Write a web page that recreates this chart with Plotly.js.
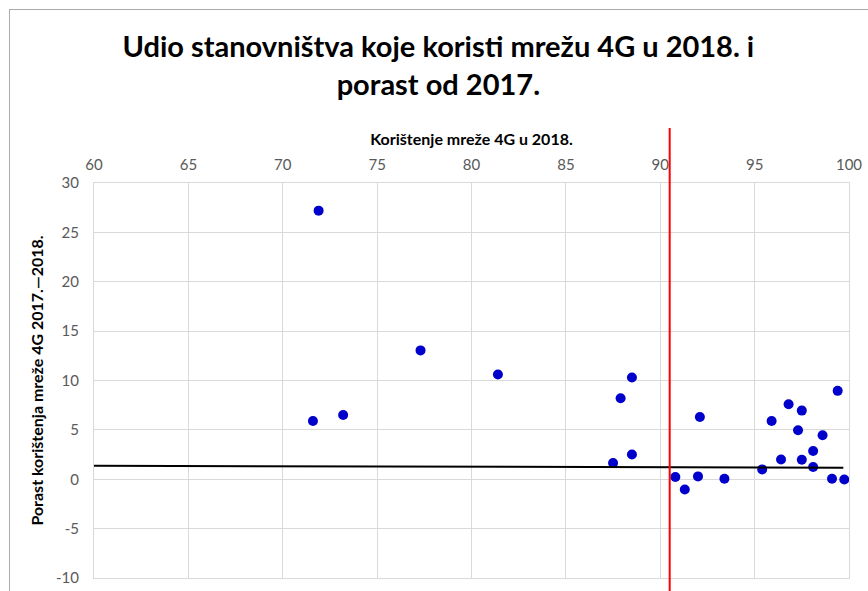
<!DOCTYPE html>
<html>
<head>
<meta charset="utf-8">
<script src="https://cdn.plot.ly/plotly-3.0.1.min.js"></script>
<style>
  html, body { margin: 0; padding: 0; background: #fff; }
  #chart { width: 868px; height: 591px; position: absolute; left: 0; top: 0; }
  #frame { position: absolute; left: 9px; top: 9px; width: 900px; height: 700px;
           border-left: 1.5px solid #ababab; border-top: 1.5px solid #ababab; pointer-events: none; }
</style>
</head>
<body>
<div id="chart"></div>
<div id="frame"></div>
<script>
// 4G usage in 2018 (%)
const usage2018 = [71.9, 71.6, 73.2, 77.3, 81.4,
                   88.5, 87.9, 88.5, 87.5,
                   92.1, 90.8, 91.3, 92.0, 93.4,
                   95.4, 95.9, 96.4, 96.8, 97.5, 97.3, 97.5,
                   98.1, 98.1, 98.6, 99.4, 99.1, 99.75];
// growth 2017–2018 (percentage points)
const growth = [27.2, 5.9, 6.5, 13.05, 10.6,
                10.3, 8.2, 2.5, 1.64,
                6.3, 0.22, -1.03, 0.29, 0.05,
                1.0, 5.9, 2.0, 7.6, 6.95, 4.96, 1.98,
                2.86, 1.24, 4.45, 8.95, 0.05, -0.02];
// horizontal reference line (growth average)
const refLineX = [60, 99.7];
const refLineY = [1.37, 1.17];
// vertical reference line (usage average)
const usageRef = 90.5;

const xTickVals = [60, 65, 70, 75, 80, 85, 90, 95, 100];
const xTickText = ["60", "65", "70", "75", "80", "85", "90", "95", "100"];
const yTickVals = [30, 25, 20, 15, 10, 5, 0, -5, -10];
const yTickText = ["30", "25", "20", "15", "10", "5", "0", "-5", "-10"];

const FONT = "Lato, Calibri, Carlito, sans-serif";

const traces = [
  {
    type: "scatter", mode: "markers",
    x: usage2018, y: growth,
    marker: { color: "#0000cc", size: 10 },
    hoverinfo: "x+y", showlegend: false
  },
  {
    type: "scatter", mode: "lines",
    x: refLineX, y: refLineY,
    line: { color: "#000000", width: 2 },
    hoverinfo: "skip", showlegend: false
  }
];

const layout = {
  width: 868, height: 591,
  paper_bgcolor: "#ffffff", plot_bgcolor: "#ffffff",
  margin: { l: 94, r: 19, t: 183, b: 13 },
  font: { family: FONT, color: "#595959" },
  title: {
    text: "<b>Udio stanovništva koje koristi mrežu 4G u 2018. i<br>porast od 2017.</b>",
    font: { family: FONT, size: 29, color: "#000000" },
    x: 0.505, xref: "container", xanchor: "center",
    y: 1 - 57 / 591, yref: "container", yanchor: "middle"
  },
  xaxis: {
    side: "top",
    range: [60, 100],
    tickvals: xTickVals, ticktext: xTickText,
    tickfont: { family: FONT, size: 15, color: "#595959" },
    ticks: "", ticklen: 0, ticklabelstandoff: 6,
    showgrid: true, gridcolor: "#d9d9d9", gridwidth: 1,
    zeroline: false,
    showline: true, linecolor: "#d9d9d9", linewidth: 1, mirror: true,
    title: { text: "<b>Korištenje mreže 4G u 2018.</b>",
             font: { family: FONT, size: 16, color: "#000000" }, standoff: 5 }
  },
  yaxis: {
    range: [-10, 30],
    tickvals: yTickVals, ticktext: yTickText,
    tickfont: { family: FONT, size: 15, color: "#595959" },
    ticks: "", ticklen: 0, ticklabelstandoff: 11,
    showgrid: true, gridcolor: "#d9d9d9", gridwidth: 1,
    zeroline: false,
    showline: true, linecolor: "#d9d9d9", linewidth: 1, mirror: true,
    title: { text: "<b>Porast korištenja mreže 4G 2017.—2018.</b>",
             font: { family: FONT, size: 16, color: "#000000" }, standoff: 8 }
  },
  shapes: [
    {
      type: "line", xref: "x", yref: "paper",
      x0: usageRef, x1: usageRef, y0: -0.05, y1: 1.139,
      line: { color: "#ff0000", width: 2 }
    }
  ]
};

Plotly.newPlot("chart", traces, layout, { displayModeBar: false, staticPlot: true });
</script>
</body>
</html>
